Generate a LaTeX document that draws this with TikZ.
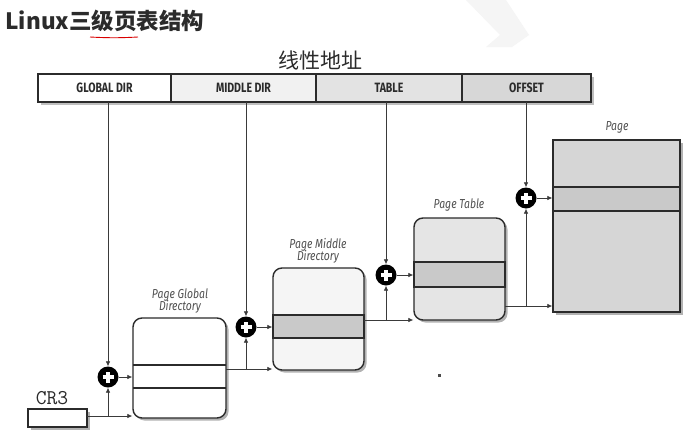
\documentclass[tikz,border=0pt]{standalone}
\usepackage{fontspec}
\setmainfont{Fira Sans}
\newfontfamily\cjk{Noto Sans CJK SC}
\newfontfamily\barfont{Fira Sans}[FakeStretch=0.78]
\newfontfamily\lblfont{Fira Sans}[FakeStretch=0.8]
\usetikzlibrary{arrows.meta,shadows}

\definecolor{ink}{HTML}{2B2B2B}
\definecolor{linegray}{HTML}{3A3A3A}
\definecolor{labelgray}{HTML}{505050}
\definecolor{fieldA}{HTML}{FFFFFF}
\definecolor{fieldB}{HTML}{F1F1F1}
\definecolor{fieldC}{HTML}{E3E3E3}
\definecolor{fieldD}{HTML}{D7D7D7}
\definecolor{bandgray}{HTML}{C9C9C9}

\tikzset{
  boxshadow/.style={drop shadow={shadow xshift=2.5pt,shadow yshift=-2.5pt,opacity=0.3,fill=black}},
  field/.style={draw=ink,line width=1.3pt,minimum height=28pt,inner sep=0pt,
    font=\barfont\bfseries\fontsize{13.5}{14}\selectfont,text=ink},
  tablebox/.style={draw=ink,line width=1.4pt,rounded corners=9pt,inner sep=0pt,boxshadow},
  pagebox/.style={draw=ink,line width=1.4pt,inner sep=0pt,boxshadow},
  band/.style={draw=ink,line width=1.2pt},
  tlabel/.style={font=\lblfont\itshape\fontsize{13}{14}\selectfont,text=labelgray,align=center},
  conn/.style={draw=linegray,line width=0.7pt},
  arrow/.style={conn,-{Latex[length=5pt,width=4.5pt]}},
  addnode/.style={circle,fill=black,minimum size=21pt,inner sep=0pt,
    path picture={
      \draw[white,line width=3.2pt]
        ([xshift=-5.5pt]path picture bounding box.center) -- ([xshift=5.5pt]path picture bounding box.center)
        ([yshift=-5.5pt]path picture bounding box.center) -- ([yshift=5.5pt]path picture bounding box.center);}},
}

\begin{document}
\begin{tikzpicture}[x=1pt,y=-1pt]
\useasboundingbox (0,0) rectangle (688,434);
\fill[white] (0,0) rectangle (688,434);

% faint chevron in the background
\fill[black!4] (466,0) -- (506,0) -- (529,35) -- (512,47) -- (486,47) -- (500,35) -- cycle;

% title and caption
\node[anchor=west,font=\cjk\bfseries\fontsize{22.5}{24}\selectfont,text=ink] (title) at (2,21) {Linux三级页表结构};
\draw[red!85!black,line width=0.9pt] (90,37) to[bend right=3] (138,37);
\node[font=\cjk\fontsize{21}{24}\selectfont,text=ink] (caption) at (320,60) {线性地址};

% linear address fields
\fill[black,opacity=0.25] (41,77) rectangle (594,105);
\node[field,fill=fieldA,minimum width=133pt] (gd) at (104.5,88) {GLOBAL DIR};
\node[field,fill=fieldB,minimum width=145pt] (md) at (243.5,88) {MIDDLE DIR};
\node[field,fill=fieldC,minimum width=146pt] (tb) at (389,88) {TABLE};
\node[field,fill=fieldD,minimum width=129pt] (of) at (526.5,88) {OFFSET};

\coordinate (gdtap) at (108,102);
\coordinate (mdtap) at (246,102);
\coordinate (tbtap) at (386,102);
\coordinate (oftap) at (526,102);

% CR3 register
\node[draw=ink,line width=1.2pt,fill=white,minimum width=59pt,minimum height=18pt,inner sep=0pt,boxshadow] (cr3) at (57.5,418) {};
\node[font=\ttfamily\fontsize{21}{22}\selectfont,text=ink] (cr3lbl) at (52,398) {CR3};

% page global directory
\node[tablebox,fill=white,minimum width=93pt,minimum height=100pt] (pgd) at (179.5,368) {};
\draw[band] (133,365) -- (226,365) (133,388) -- (226,388);
\node[tlabel] (pgdlbl) at (180,301) {Page Global\\[-2pt]Directory};

% page middle directory
\node[tablebox,fill=black!4,minimum width=91pt,minimum height=102pt] (pmd) at (318.5,319) {};
\draw[band,fill=bandgray] (273,315) rectangle (364,338);
\node[tlabel] (pmdlbl) at (318,251) {Page Middle\\[-2pt]Directory};

% page table
\node[tablebox,fill=black!10,minimum width=91pt,minimum height=102pt] (pt) at (459.5,269) {};
\draw[band,fill=bandgray] (414,262) rectangle (505,287);
\node[tlabel] (ptlbl) at (459,205) {Page Table};

% page frame
\node[pagebox,fill=black!16,minimum width=127pt,minimum height=172pt] (page) at (616.5,226) {};
\draw[band,fill=bandgray] (553,187) rectangle (680,211);
\node[tlabel] (pagelbl) at (617,127) {Page};

% adders
\node[addnode] (add1) at (108,377) {};
\node[addnode] (add2) at (246,327) {};
\node[addnode] (add3) at (386,275) {};
\node[addnode] (add4) at (526,198) {};

% index fields feeding the adders
\draw[arrow] (gdtap) -- (add1);
\draw[arrow] (mdtap) -- (add2);
\draw[arrow] (tbtap) -- (add3);
\draw[arrow] (oftap) -- (add4);

% base addresses
\coordinate (cr3out) at (87,416);
\draw[arrow] (cr3out) -- (cr3out -| pgd.west);
\draw[arrow] (cr3out -| add1) -- (add1);

\coordinate (pgdout) at (226,369);
\draw[arrow] (pgdout) -- (pgdout -| pmd.west);
\draw[arrow] (pgdout -| add2) -- (add2);

\coordinate (pmdout) at (364,320);
\draw[arrow] (pmdout) -- (pmdout -| pt.west);
\draw[arrow] (pmdout -| add3) -- (add3);

\coordinate (ptout) at (505,306);
\draw[arrow] (ptout) -- (ptout -| page.west);
\draw[arrow] (ptout -| add4) -- (add4);

% adder outputs select the entries
\draw[arrow] (add1) -- (add1 -| pgd.west);
\draw[arrow] (add2) -- (add2 -| pmd.west);
\draw[arrow] (add3) -- (add3 -| pt.west);
\draw[arrow] (add4) -- (add4 -| page.west);

% stray mark
\fill[black!70] (438,374) rectangle (441,377);
\end{tikzpicture}
\end{document}
